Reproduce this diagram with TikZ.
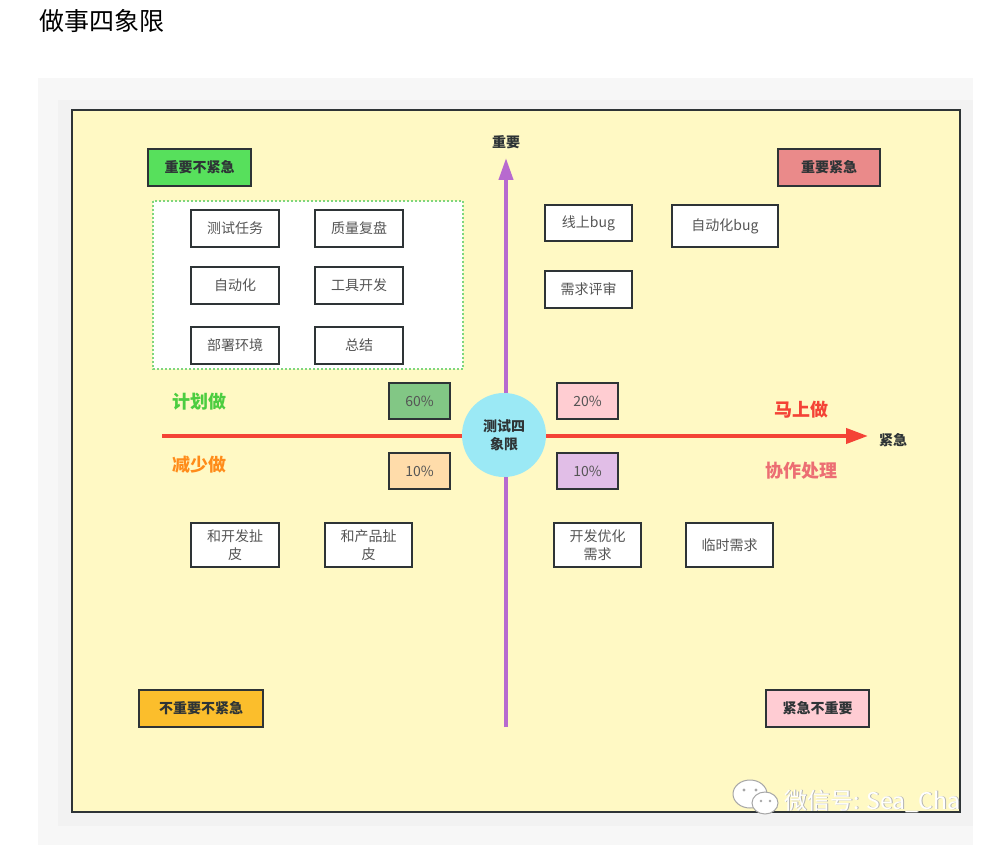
\documentclass[tikz,border=0pt]{standalone}
\usepackage{fontspec}
\setmainfont{Noto Sans CJK SC}
\usepackage{xcolor}
\usetikzlibrary{arrows.meta}
\definecolor{yellowbg}{RGB}{255, 249, 196}
\definecolor{framedark}{RGB}{46, 52, 54}
\definecolor{axispurple}{RGB}{183, 106, 207}
\definecolor{axisred}{RGB}{244, 67, 54}
\definecolor{centercyan}{RGB}{155, 233, 245}
\definecolor{greenquad}{RGB}{87, 224, 92}
\definecolor{redquad}{RGB}{234, 138, 138}
\definecolor{orangequad}{RGB}{251, 190, 44}
\definecolor{pinkquad}{RGB}{255, 204, 211}
\definecolor{pctgreen}{RGB}{130, 199, 133}
\definecolor{pctorange}{RGB}{255, 220, 170}
\definecolor{pctpink}{RGB}{255, 205, 210}
\definecolor{pctpurple}{RGB}{225, 190, 231}
\definecolor{dotgreen}{RGB}{126, 214, 126}
\definecolor{boxtext}{RGB}{85, 85, 85}

\begin{document}
\begin{tikzpicture}[x=1pt, y=-1pt,
    quadbox/.style={draw=framedark, line width=2, minimum height=37, inner sep=0,
        font=\fontsize{14}{16}\selectfont\bfseries, text=framedark},
    taskbox/.style={draw=framedark, line width=2, fill=white, minimum width=88,
        minimum height=37, inner sep=0, align=center,
        font=\fontsize{14}{18}\selectfont, text=boxtext},
    pctbox/.style={draw=framedark, line width=2, minimum width=61, minimum height=36,
        inner sep=0, font=\fontsize{14}{16}\selectfont, text=boxtext},
    doword/.style={font=\fontsize{18}{20}\selectfont\bfseries},
    axislabel/.style={font=\fontsize{14}{16}\selectfont\bfseries, text=framedark}]
    \useasboundingbox (0,0) rectangle (1002,845);
    \fill[white] (0,0) rectangle (1002,845);
    % page background
    \node[anchor=west, font=\fontsize{25}{28}\selectfont, text=black] (title) at (36,21) {做事四象限};
    \fill[black!3] (38,78) rectangle (973,845);
    \fill[black!5] (58,100) rectangle (973,826);
    \draw[framedark, line width=2, fill=yellowbg] (72,110) rectangle (960,812);

    % axes
    \coordinate (vbottom) at (506,727);
    \coordinate (vtop) at (506,158);
    \coordinate (hleft) at (162,436);
    \coordinate (hright) at (868,436);
    \draw[axispurple, line width=4, -{Triangle[length=22, width=14]}] (vbottom) -- (vtop);
    \draw[axisred, line width=4, -{Triangle[length=22, width=15]}] (hleft) -- (hright);
    \node[axislabel] (important) at (506,142) {重要};
    \node[axislabel] (urgent) at (893,440) {紧急};
    \node[circle, fill=centercyan, minimum size=84, inner sep=0, align=center,
        font=\fontsize{14}{18}\selectfont\bfseries, text=framedark] (center) at (504,435) {测试四\\象限};

    % quadrant titles
    \node[quadbox, fill=greenquad, minimum width=103] (q2) at (199.5,167.5) {重要不紧急};
    \node[quadbox, fill=redquad, minimum width=102] (q1) at (829,167.5) {重要紧急};
    \node[quadbox, fill=orangequad, minimum width=124] (q3) at (201,708.5) {不重要不紧急};
    \node[quadbox, fill=pinkquad, minimum width=103] (q4) at (817.5,708.5) {紧急不重要};

    % important, not urgent
    \draw[dotgreen, line width=2, dotted, fill=white] (153,201) rectangle (463,369);
    \node[taskbox] (testtask) at (235,228.5) {测试任务};
    \node[taskbox] (review) at (359,228.5) {质量复盘};
    \node[taskbox] (auto) at (235,285.5) {自动化};
    \node[taskbox] (tools) at (359,285.5) {工具开发};
    \node[taskbox] (deploy) at (235,345.5) {部署环境};
    \node[taskbox] (summary) at (359,345.5) {总结};

    % important and urgent
    \node[taskbox, minimum width=87, minimum height=36] (onlinebug) at (588.5,223) {线上bug};
    \node[taskbox, minimum width=106, minimum height=42] (autobug) at (725,226) {自动化bug};
    \node[taskbox, minimum width=87] (reqreview) at (588.5,289.5) {需求评审};

    % percentages
    \node[pctbox, fill=pctgreen] (pctA) at (419.5,401) {60\%};
    \node[pctbox, fill=pctorange] (pctB) at (419.5,471) {10\%};
    \node[pctbox, fill=pctpink] (pctC) at (587.5,401) {20\%};
    \node[pctbox, fill=pctpurple] (pctD) at (587.5,471) {10\%};

    \node[doword, text={rgb,255:red,76;green,205;blue,64}] (plan) at (199,402) {计划做};
    \node[doword, text={rgb,255:red,255;green,140;blue,26}] (reduce) at (199,465) {减少做};
    \node[doword, text=axisred] (now) at (801,410) {马上做};
    \node[doword, text={rgb,255:red,236;green,110;blue,115}] (coop) at (801,471) {协作处理};

    % not important
    \node[taskbox, minimum height=44] (devtalk) at (235,545) {和开发扯\\皮};
    \node[taskbox, minimum width=87, minimum height=44] (pmtalk) at (368.5,545) {和产品扯\\皮};
    \node[taskbox, minimum width=87, minimum height=44] (devopt) at (597.5,545) {开发优化\\需求};
    \node[taskbox, minimum width=87, minimum height=44] (tempreq) at (729.5,545) {临时需求};

    % watermark
    \draw[black!35, line width=1, fill=white] (750,794) ellipse (17 and 14);
    \draw[black!35, line width=1, fill=white] (765,803) ellipse (13 and 11);
    \fill[black!35] (744,790) circle (1.6) (756,790) circle (1.6) (761,801) circle (1.4) (770,801) circle (1.4);
    \node[anchor=west, font=\fontsize{23}{26}\selectfont, text=black!30] (markshadow) at (781.8,801.8) {微信号: Sea\_Cha};
    \node[anchor=west, font=\fontsize{23}{26}\selectfont, text=white] (mark) at (781,801) {微信号: Sea\_Cha};
\end{tikzpicture}
\end{document}
